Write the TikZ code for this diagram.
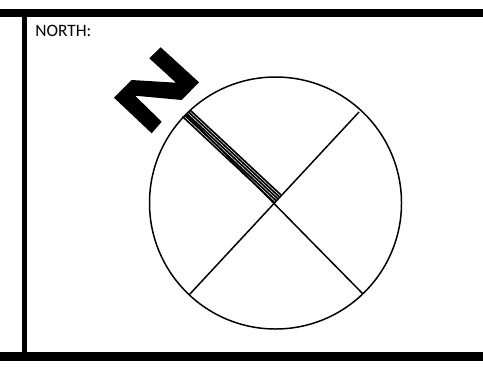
\documentclass[tikz,border=0pt]{standalone}
\usepackage{fontspec}
\setmainfont{Carlito}
\tikzset{frameline/.style={line width=4.8pt,line cap=butt},
  circleline/.style={line width=0.85pt}}
\begin{document}
\begin{tikzpicture}[x=0.02cm,y=-0.02cm]
\useasboundingbox (0,0) rectangle (483,369);
% frame
\draw[frameline] (0,13) -- (483,13);
\draw[frameline] (0,356.5) -- (483,356.5);
\draw[line width=2.9pt] (24.5,13) -- (24.5,356.5);
\node[anchor=west,inner sep=0pt,font=\fontsize{9.9pt}{11pt}\selectfont] (northlabel) at (35,31) {NORTH:};
% circle and cross
\coordinate (centre) at (275.5,203);
\draw[circleline] (centre) circle (126);
\draw[circleline] (186,114) -- (363,294);
\draw[circleline] (359,112) -- (189,295);
% thick hatched sector line
\foreach \d in {0,1,...,4}
  \draw[line width=0.95pt] (182.5+\d*2,116.5-\d*1.5) -- (275+\d*1.5,203-\d*2);
% letter N
\fill (160.7,47.3) -- (199,82.3) -- (181.7,100) -- (135,95.7) -- (161.7,121.7)
  -- (151.7,133.3) -- (114,97.7) -- (131.7,80) -- (176,82.7) -- (149.3,58.3) -- cycle;
\end{tikzpicture}
\end{document}
